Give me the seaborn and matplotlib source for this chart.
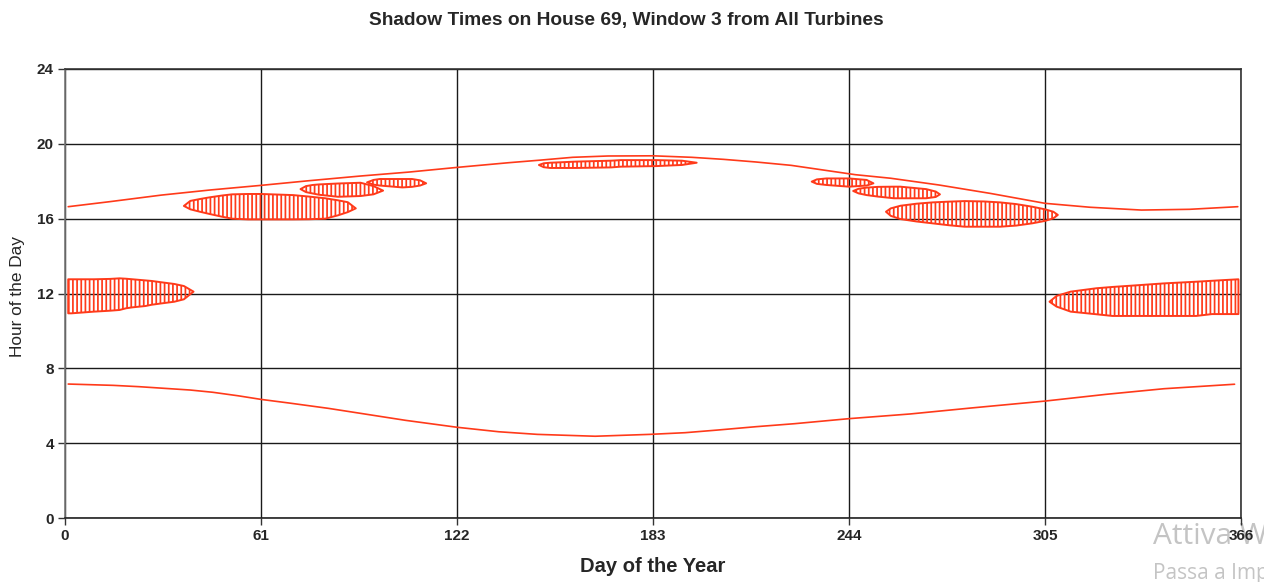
import matplotlib
matplotlib.use("Agg")
import matplotlib.pyplot as plt
import matplotlib.transforms as mtransforms
import seaborn as sns
import pandas as pd

# ---------------- data ----------------
sunrise_day = [1, 15, 23, 31, 39, 46, 54, 61, 70, 82, 94, 106, 122, 135, 147, 165, 182,
               193, 203, 215, 227, 244, 263, 282, 305, 324, 342, 364]
sunrise_hr = [7.16, 7.09, 7.02, 6.93, 6.84, 6.72, 6.53, 6.34, 6.14, 5.86, 5.54, 5.22, 4.85,
              4.61, 4.47, 4.37, 4.47, 4.56, 4.70, 4.88, 5.04, 5.31, 5.56, 5.88, 6.25, 6.61,
              6.91, 7.15]

sunset_day = [1, 14, 30, 45, 61, 76, 92, 107, 122, 138, 148, 158, 169, 183, 195, 205, 215,
              226, 236, 246, 257, 272, 288, 305, 319, 335, 350, 365]
sunset_hr = [16.64, 16.91, 17.26, 17.53, 17.78, 18.03, 18.28, 18.49, 18.74, 18.99, 19.13,
             19.28, 19.35, 19.36, 19.28, 19.17, 19.03, 18.85, 18.60, 18.35, 18.16, 17.80,
             17.35, 16.82, 16.61, 16.46, 16.50, 16.64]

# shadow periods (day, start hour, end hour) for each shadow area
shadow_a_day = [1, 2, 9, 14, 17, 19, 21, 25, 27, 30, 34, 37, 40]
shadow_a_start = [10.94, 10.94, 11.03, 11.08, 11.12, 11.21, 11.26, 11.33, 11.40, 11.47, 11.56, 11.69, 12.10]
shadow_a_end = [12.76, 12.76, 12.76, 12.78, 12.81, 12.79, 12.76, 12.70, 12.67, 12.60, 12.51, 12.40, 12.10]

shadow_b_day = [37, 39, 42, 45, 49, 52, 57, 61, 71, 76, 81, 85, 88, 90.5]
shadow_b_start = [16.68, 16.50, 16.37, 16.25, 16.10, 16.00, 15.96, 15.96, 15.96, 15.97, 16.00, 16.18, 16.35, 16.55]
shadow_b_end = [16.68, 16.95, 17.05, 17.14, 17.24, 17.30, 17.32, 17.32, 17.26, 17.18, 17.09, 16.98, 16.88, 16.55]

shadow_c_day = [73.3, 75, 77, 79, 85, 92, 96, 99]
shadow_c_start = [17.58, 17.42, 17.35, 17.28, 17.17, 17.21, 17.30, 17.50]
shadow_c_end = [17.58, 17.74, 17.80, 17.83, 17.88, 17.92, 17.74, 17.50]

shadow_d_day = [94, 96, 98, 105, 108, 110.5, 112.4]
shadow_d_start = [17.94, 17.82, 17.77, 17.67, 17.70, 17.77, 17.89]
shadow_d_end = [17.94, 18.07, 18.12, 18.12, 18.12, 18.05, 17.89]

shadow_e_day = [147.5, 149, 151, 159, 170, 173, 184, 192, 196.6]
shadow_e_start = [18.87, 18.75, 18.71, 18.71, 18.74, 18.78, 18.81, 18.87, 18.99]
shadow_e_end = [18.87, 18.96, 18.99, 19.05, 19.10, 19.13, 19.13, 19.10, 18.99]

shadow_f_day = [232.4, 234, 237, 244, 249.5, 251.6]
shadow_f_start = [17.98, 17.86, 17.80, 17.71, 17.77, 17.89]
shadow_f_end = [17.98, 18.10, 18.15, 18.15, 18.07, 17.89]

shadow_g_day = [245.3, 247, 249.5, 253, 258, 260, 268, 271, 272.3]
shadow_g_start = [17.48, 17.35, 17.26, 17.18, 17.09, 17.09, 17.09, 17.16, 17.30]
shadow_g_end = [17.48, 17.60, 17.66, 17.70, 17.71, 17.71, 17.58, 17.45, 17.30]

shadow_h_day = [255.5, 257, 260, 265, 270, 275, 280, 286, 291, 296, 301, 305, 307.6, 309]
shadow_h_start = [16.37, 16.15, 15.98, 15.85, 15.75, 15.65, 15.57, 15.57, 15.57, 15.63, 15.75, 15.88, 16.02, 16.20]
shadow_h_end = [16.37, 16.55, 16.69, 16.80, 16.87, 16.91, 16.94, 16.92, 16.87, 16.78, 16.64, 16.50, 16.37, 16.20]

shadow_i_day = [306.4, 308.6, 313, 321, 326, 332, 342, 352, 357, 361, 365.2]
shadow_i_start = [11.56, 11.30, 11.03, 10.89, 10.80, 10.80, 10.80, 10.80, 10.90, 10.90, 10.90]
shadow_i_end = [11.56, 11.87, 12.10, 12.28, 12.35, 12.42, 12.54, 12.63, 12.68, 12.72, 12.76]

shadows = [
    (shadow_a_day, shadow_a_start, shadow_a_end),
    (shadow_b_day, shadow_b_start, shadow_b_end),
    (shadow_c_day, shadow_c_start, shadow_c_end),
    (shadow_d_day, shadow_d_start, shadow_d_end),
    (shadow_e_day, shadow_e_start, shadow_e_end),
    (shadow_f_day, shadow_f_start, shadow_f_end),
    (shadow_g_day, shadow_g_start, shadow_g_end),
    (shadow_h_day, shadow_h_start, shadow_h_end),
    (shadow_i_day, shadow_i_start, shadow_i_end),
]

x_ticks = [0, 61, 122, 183, 244, 305, 366]
y_ticks = [0, 4, 8, 12, 16, 20, 24]

title = "Shadow Times on House 69, Window 3 from All Turbines"
x_label = "Day of the Year"
y_label = "Hour of the Day"

# ---------------- style ----------------
sns.set_style("white")
plt.rcParams["font.family"] = ["Liberation Sans", "DejaVu Sans"]
RED = "#ff3a1a"
plt.rcParams["hatch.color"] = RED
plt.rcParams["hatch.linewidth"] = 1.25

fig = plt.figure(figsize=(12.77, 5.82), dpi=100)
ax = fig.add_axes([65 / 1277, 1 - 518 / 582, (1241 - 65) / 1277, (518 - 69) / 582])

# shadow areas
for d, s, e in shadows:
    ax.fill_between(d, s, e, facecolor="none", edgecolor=RED, hatch="||||",
                    linewidth=1.4, zorder=3)

# sunrise / sunset
df_rise = pd.DataFrame({"day": sunrise_day, "hour": sunrise_hr})
df_set = pd.DataFrame({"day": sunset_day, "hour": sunset_hr})
sns.lineplot(data=df_rise, x="day", y="hour", ax=ax, color=RED, linewidth=1.2, zorder=4)
sns.lineplot(data=df_set, x="day", y="hour", ax=ax, color=RED, linewidth=1.2, zorder=4)

ax.set_xlim(0, 366)
ax.set_ylim(0, 24)
ax.set_xticks(x_ticks)
ax.set_yticks(y_ticks)
ax.set_xticklabels([str(t) for t in x_ticks], fontsize=11, fontweight="bold")
ax.set_yticklabels([str(t) for t in y_ticks], fontsize=11, fontweight="bold")
ax.grid(True, color="#1a1a1a", linewidth=1.0, zorder=1)
ax.set_axisbelow(True)
ax.tick_params(axis="both", direction="out", length=5, width=1, color="#333333",
               pad=3, left=True, bottom=True)
for side, sp in ax.spines.items():
    sp.set_visible(True)
    sp.set_linewidth(1.2)
ax.spines["left"].set_color("#777777")
ax.spines["bottom"].set_color("#222222")
ax.spines["top"].set_color("#333333")
ax.spines["right"].set_color("#333333")
ax.set_xlabel("")
ax.set_ylabel("")

fig.text(626 / 1277, 1 - 20 / 582, title, ha="center", va="center",
         fontsize=13.8, fontweight="bold")
fig.text(653 / 1277, 1 - 566 / 582, x_label, ha="center", va="center",
         fontsize=14.5, fontweight="bold")
fig.text(18 / 1277, 1 - 297 / 582, y_label, ha="center", va="center",
         fontsize=12.4, rotation=90)

# screen watermark visible in the reference (drawn beneath the axes texts,
# cut off where the screenshot ends)
clip = mtransforms.Bbox.from_extents(0, 0, 1264, 582)
for txt, ypx, fs in [("Attiva Windows", 537, 21.5), ("Passa a Impostazioni", 574, 15)]:
    t = fig.text(1153 / 1277, 1 - ypx / 582, txt, ha="left", va="center",
                 fontsize=fs, color="#c4c4c4", family=["Open Sans", "DejaVu Sans"],
                 zorder=-1)
    t.set_clip_box(clip)
    t.set_clip_on(True)

fig.savefig("out.png", dpi=100)
